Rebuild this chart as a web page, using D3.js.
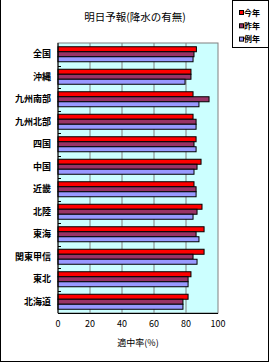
<!DOCTYPE html>
<html>
<head>
<meta charset="utf-8">
<script src="https://cdn.jsdelivr.net/npm/d3@7"></script>
<style>
  body { margin: 0; background: #fff; }
  text { font-family: "Noto Sans CJK JP", sans-serif; fill: #000; }
</style>
</head>
<body>
<div id="chart"></div>
<script>
// regions, top to bottom
const regions = ["全国", "沖縄", "九州南部", "九州北部", "四国", "中国", "近畿", "北陸", "東海", "関東甲信", "東北", "北海道"];
const thisYear = [86.5, 83.1, 84.4, 84.4, 86.3, 89.4, 85.0, 90.0, 91.3, 91.3, 83.1, 81.3];
const lastYear = [85.0, 83.1, 94.4, 86.3, 85.0, 86.9, 86.3, 86.9, 86.3, 84.4, 81.3, 78.1];
const normalYear = [84.4, 79.4, 88.1, 86.3, 86.3, 85.0, 86.3, 84.4, 88.1, 86.9, 81.3, 78.1];
const seriesNames = ["今年", "昨年", "例年"];
const seriesColors = ["#ff0000", "#993366", "#9999ff"];
const xTicks = [0, 20, 40, 60, 80, 100];

let W = 270, H = 363;
let margin = {top: 43, left: 58, right: 52, bottom: 50};
let pw = 218 - 58, ph = 313 - 43;

let svg = d3.select("#chart").append("svg")
    .attr("width", W).attr("height", H);

// outer border
svg.append("rect")
    .attr("x", 0.5).attr("y", -1)
    .attr("width", 268).attr("height", 362.5)
    .attr("fill", "#fff").attr("stroke", "#000");

let g = svg.append("g")
    .attr("transform", "translate(" + margin.left + "," + margin.top + ")");

let x = d3.scaleLinear().domain([0, 100]).range([0, pw]);
let y = d3.scaleBand().domain(regions).range([0, ph]);
let inner = d3.scaleBand().domain(seriesNames).range([3.75, y.bandwidth() - 3.75]);

// plot area
g.append("rect")
    .attr("width", pw).attr("height", ph)
    .attr("fill", "#ccffff").attr("stroke", "#808080");

// grid lines
g.selectAll(".grid")
  .data(xTicks.slice(1, -1))
  .enter().append("line")
    .attr("x1", d => x(d)).attr("x2", d => x(d))
    .attr("y1", 0).attr("y2", ph)
    .attr("stroke", "#808080");

let series = [thisYear, lastYear, normalYear];
series.forEach((vals, si) => {
  g.selectAll(".bar" + si)
    .data(vals)
    .enter().append("rect")
      .attr("x", 0)
      .attr("y", (d, i) => y(regions[i]) + inner(seriesNames[si]))
      .attr("width", d => x(d))
      .attr("height", inner.bandwidth())
      .attr("fill", seriesColors[si])
      .attr("stroke", "#000")
      .attr("stroke-width", 1);
});

// y axis with inside ticks
g.append("line")
    .attr("x1", 0).attr("x2", 0).attr("y1", 0).attr("y2", ph)
    .attr("stroke", "#000");
g.selectAll(".ytick")
  .data(regions.slice(1))
  .enter().append("line")
    .attr("x1", 0).attr("x2", 3)
    .attr("y1", d => Math.round(y(d)) + 0.5).attr("y2", d => Math.round(y(d)) + 0.5)
    .attr("stroke", "#000");
g.selectAll(".ylab")
  .data(regions)
  .enter().append("text")
    .attr("x", -7)
    .attr("y", d => y(d) + y.bandwidth() / 2)
    .attr("dy", "0.35em")
    .attr("text-anchor", "end")
    .style("font-size", "9px")
    .style("font-weight", "bold")
    .text(d => d);

// x axis
g.append("line")
    .attr("x1", 0).attr("x2", pw).attr("y1", ph + 0.5).attr("y2", ph + 0.5)
    .attr("stroke", "#000");
g.selectAll(".xlab")
  .data(xTicks)
  .enter().append("text")
    .attr("x", d => x(d))
    .attr("y", ph + 11)
    .attr("dy", "0.35em")
    .attr("text-anchor", "middle")
    .style("font-size", "9px")
    .text(d => d);

svg.append("text")
    .attr("x", 138).attr("y", 343)
    .attr("dy", "0.35em")
    .attr("text-anchor", "middle")
    .style("font-size", "9px")
    .text("適中率(%)");

// title
svg.append("text")
    .attr("x", 135).attr("y", 17)
    .attr("dy", "0.35em")
    .attr("text-anchor", "middle")
    .style("font-size", "10.5px")
    .text("明日予報(降水の有無)");

// legend
let legend = svg.append("g");
legend.append("rect")
    .attr("x", 232.5).attr("y", 0.5)
    .attr("width", 36).attr("height", 47)
    .attr("fill", "#fff").attr("stroke", "#000");
seriesNames.forEach((name, i) => {
  let ly = 13 + i * 13.3;
  legend.append("rect")
      .attr("x", 239.5).attr("y", ly - 2.5)
      .attr("width", 4).attr("height", 4)
      .attr("fill", seriesColors[i]).attr("stroke", "#000");
  legend.append("text")
      .attr("x", 244).attr("y", ly)
      .attr("dy", "0.35em")
      .style("font-size", "8px")
      .style("font-weight", "bold")
      .text(name);
});
</script>
</body>
</html>
